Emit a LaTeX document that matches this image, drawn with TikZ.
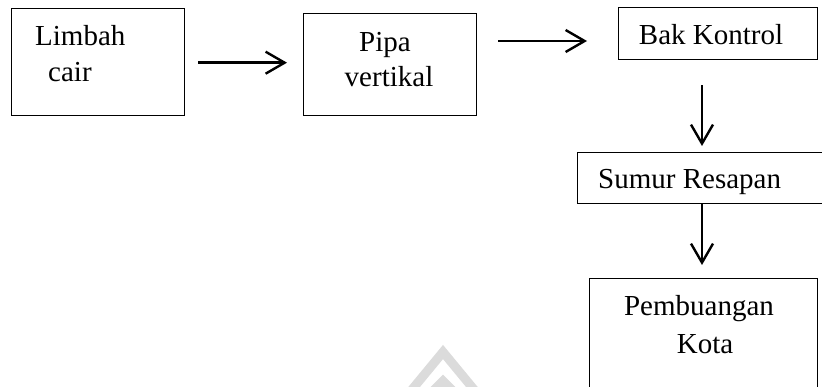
\documentclass[tikz,border=0pt]{standalone}
\usepackage{fontspec}
\setmainfont{Liberation Serif}
\usetikzlibrary{arrows.meta}
\begin{document}
\begin{tikzpicture}[x=1pt,y=-1pt,
  box/.style={draw, line width=1.4pt, inner sep=0pt, anchor=north west},
  lbl/.style={inner sep=0pt, font=\fontsize{29}{36}\selectfont},
  arr/.style={line width=2.4pt, -{Straight Barb[length=19pt,width=22pt]}},
  wm/.style={draw=black!14, line width=9pt}]
\useasboundingbox (0,0) rectangle (822,387);
\begin{scope}
\clip (0,0) rectangle (822,387);
\fill[white] (0,0) rectangle (822,387);
% faint watermark
\draw[wm] (410,392) -- (443,352) -- (476,392);
\draw[wm] (428,396) -- (443,381) -- (458,396);
% boxes
\node[box, minimum width=173pt, minimum height=107pt] (limbah) at (11,8) {};
\node[box, minimum width=173pt, minimum height=102pt] (pipa) at (303,13) {};
\node[box, minimum width=199pt, minimum height=52pt] (bak) at (618,7) {};
\node[box, minimum width=253pt, minimum height=51pt] (sumur) at (577,152) {};
\node[box, minimum width=228pt, minimum height=125pt] (pemb) at (589,278) {};
\end{scope}
% texts
\node[lbl, anchor=base west] (tlimbah) at (35,46) {Limbah};
\node[lbl, anchor=base west] (tcair) at (48,82) {cair};
\node[lbl, anchor=base] (tpipa) at (385,52) {Pipa};
\node[lbl, anchor=base] (tvert) at (389,87) {vertikal};
\node[lbl, anchor=base] (tbak) at (711,45) {Bak Kontrol};
\node[lbl, anchor=base west] (tsumur) at (598,189) {Sumur Resapan};
\node[lbl, anchor=base] (tpemb) at (699,316) {Pembuangan};
\node[lbl, anchor=base] (tkota) at (705,353) {Kota};
% connectors
\coordinate (ya) at (0,62.7);
\coordinate (yb) at (0,41);
\coordinate (xc) at (702,0);
\draw[arr, shorten <=13pt, shorten >=16pt] (limbah.east |- ya) -- (pipa.west |- ya);
\draw[arr, shorten <=21pt, shorten >=31pt] (pipa.east |- yb) -- (bak.west |- yb);
\draw[arr, shorten <=25pt, shorten >=6pt] (bak.south -| xc) -- (sumur.north -| xc);
\draw[arr, shorten >=13pt] (sumur.south -| xc) -- (pemb.north -| xc);
\end{tikzpicture}
\end{document}
